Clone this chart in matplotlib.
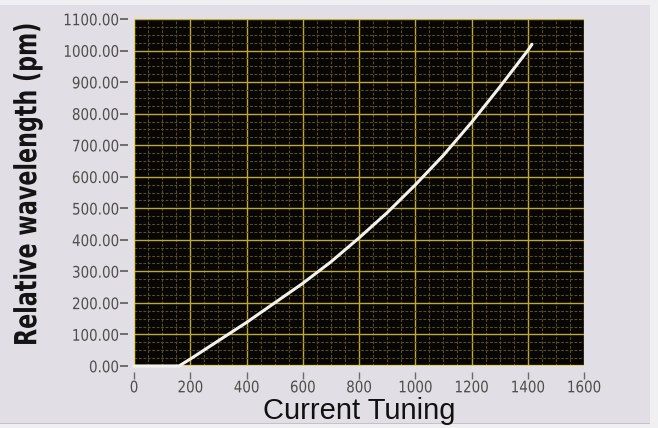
import matplotlib
matplotlib.use("Agg")
import matplotlib.pyplot as plt
from matplotlib.ticker import MultipleLocator, FormatStrFormatter
from matplotlib.patheffects import AbstractPathEffect
from matplotlib.transforms import Affine2D
from matplotlib.patches import Rectangle

# Tuning curve: relative wavelength shift versus tuning current
current = [0, 160, 200, 300, 400, 500, 600, 700, 800, 900, 1000, 1100, 1200, 1300, 1400, 1415]
wavelength = [0, 0, 22, 80, 138, 200, 262, 330, 406, 486, 574, 668, 772, 884, 1000, 1020]

x_ticks = [0, 200, 400, 600, 800, 1000, 1200, 1400, 1600]
y_ticks = [0, 100, 200, 300, 400, 500, 600, 700, 800, 900, 1000, 1100]


class Reshape(AbstractPathEffect):
    """Scale glyphs along (sx) and across (sy) the text direction."""

    def __init__(self, sx=1.0, sy=1.0, anchor="center"):
        super().__init__()
        self.sx = sx
        self.sy = sy
        self.anchor = anchor

    def draw_path(self, renderer, gc, tpath, affine, rgbFace=None):
        ext = tpath.get_extents()
        cx = {"left": ext.x0, "center": 0.5 * (ext.x0 + ext.x1), "right": ext.x1}[self.anchor]
        cy = 0.5 * (ext.y0 + ext.y1)
        t = (Affine2D().translate(-cx, -cy).scale(self.sx, self.sy).translate(cx, cy)
             + affine)
        renderer.draw_path(gc, tpath, t, rgbFace)


W, H = 658, 428
fig = plt.figure(figsize=(W / 100, H / 100), dpi=100)
fig.patch.set_facecolor("#f0eff2")

# panel behind the graph
fig.patches.append(Rectangle((0, 1 - 423 / H), 650 / W, (423 - 5) / H,
                             transform=fig.transFigure, facecolor="#e1dfe5",
                             edgecolor="none", zorder=-2))
fig.patches.append(Rectangle((0, 1 - 424 / H), 650 / W, 1.2 / H,
                             transform=fig.transFigure, facecolor="#c4c2c8",
                             edgecolor="none", zorder=-2))

ax = fig.add_axes([134 / W, 1 - 366 / H, (584 - 134) / W, (366 - 19) / H])
ax.set_zorder(1)
ax.set_facecolor("#070604")

ax.set_xlim(0, 1600)
ax.set_ylim(0, 1100)
ax.set_xticks(x_ticks)
ax.set_yticks(y_ticks)
ax.xaxis.set_minor_locator(MultipleLocator(50))
ax.yaxis.set_minor_locator(MultipleLocator(25))
ax.yaxis.set_major_formatter(FormatStrFormatter("%.2f"))

ax.grid(which="major", color="#bfa83a", linewidth=1.0)
ax.grid(which="minor", color="#5a4e20", linewidth=0.8, linestyle=(0, (2.5, 1.5)))
ax.set_axisbelow(True)

for side in ("top", "right", "left", "bottom"):
    ax.spines[side].set_visible(False)
ax.spines["left"].set_position(("outward", 4))
ax.spines["bottom"].set_position(("outward", 4))

# yellow axis lines on the plot edge
ax.axvline(0, color="#e6d24a", linewidth=1.6, zorder=3)
ax.axhline(0, color="#e6d24a", linewidth=1.6, zorder=3)

ax.tick_params(axis="y", which="major", direction="out", length=6, width=1.2,
               color="#5a5a5a", labelcolor="#4e4e4e", pad=1, labelsize=10)
ax.tick_params(axis="x", which="major", direction="out", length=5, width=1.0,
               color="#6a6a6a", labelcolor="#4e4e4e", pad=1.5, labelsize=10)
ax.tick_params(which="minor", length=0)
for lbl in ax.get_yticklabels():
    lbl.set_path_effects([Reshape(0.97, 1.15, "right")])
for lbl in ax.get_xticklabels():
    lbl.set_path_effects([Reshape(0.97, 1.15, "center")])

ax.plot(current, wavelength, color="#f4f2ee", linewidth=2.2, solid_capstyle="round",
        solid_joinstyle="round", zorder=4, clip_on=False)

ylab = fig.text(28 / W, 1 - 346 / H, "Relative wavelength (pm)", rotation=90,
                rotation_mode="anchor", ha="left", va="center", fontsize=16,
                fontweight="bold", color="#141414", family="DejaVu Sans")
ylab.set_path_effects([Reshape(1.0, 1.37, "left")])

fig.text(359 / W, 1 - 419 / H, "Current Tuning", ha="center", va="baseline",
         fontsize=21, color="#111111", family=["Liberation Sans", "DejaVu Sans"])

fig.savefig("out.png", dpi=100, facecolor=fig.get_facecolor())
